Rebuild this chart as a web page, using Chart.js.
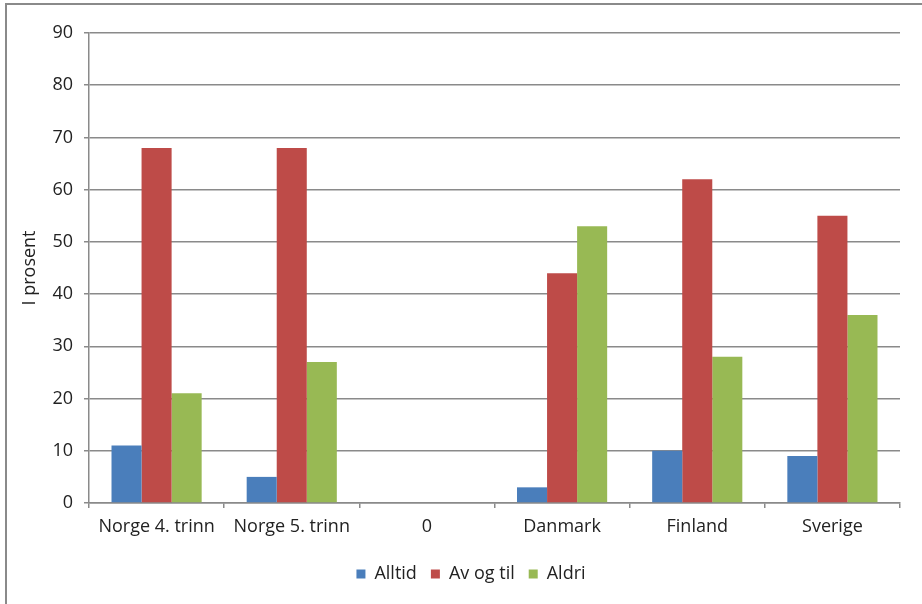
<!DOCTYPE html>
<html>
<head>
<meta charset="utf-8">
<script src="https://cdn.jsdelivr.net/npm/chart.js@4/dist/chart.umd.min.js"></script>
<style>
html,body{margin:0;padding:0;background:#fff;}
#wrap{position:relative;width:922px;height:604px;overflow:hidden;}
#frame{position:absolute;left:5px;top:3px;width:1000px;height:1000px;border-left:2px solid #8a8a8a;border-top:2px solid #8a8a8a;}
canvas{position:absolute;left:0;top:0;}
</style>
</head>
<body>
<div id="wrap">
<div id="frame"></div>
<canvas id="c" width="922" height="604"></canvas>
</div>
<script>
const categories = ["Norge 4. trinn", "Norge 5. trinn", "0", "Danmark", "Finland", "Sverige"];
const alltid = [11, 5, 0, 3, 10, 9];
const avOgTil = [68, 68, 0, 44, 62, 55];
const aldri = [21, 27, 0, 53, 28, 36];
const seriesNames = ["Alltid", "Av og til", "Aldri"];
const yTicks = [0, 10, 20, 30, 40, 50, 60, 70, 80, 90];

const gridColor = '#8a8a8a';
const font = {family: "'Open Sans', 'Noto Sans', sans-serif", size: 18};

new Chart(document.getElementById('c'), {
  type: 'bar',
  data: {
    labels: categories,
    datasets: [
      {label: seriesNames[0], data: alltid, backgroundColor: '#4A7EBB', borderWidth: 0},
      {label: seriesNames[1], data: avOgTil, backgroundColor: '#BE4B48', borderWidth: 0},
      {label: seriesNames[2], data: aldri, backgroundColor: '#98B954', borderWidth: 0}
    ]
  },
  options: {
    responsive: false,
    animation: false,
    devicePixelRatio: 1,
    layout: {padding: {top: 33, right: 22, bottom: 11, left: 42}},
    datasets: {bar: {categoryPercentage: 0.667, barPercentage: 1.0}},
    plugins: {
      legend: {
        position: 'bottom',
        labels: {color: '#222', font: font, boxWidth: 9, boxHeight: 9, padding: 14}
      },
      tooltip: {enabled: false}
    },
    scales: {
      x: {
        offset: true,
        grid: {offset: true, drawOnChartArea: false, drawTicks: true, tickLength: 5, color: gridColor, lineWidth: 1.5},
        border: {display: true, color: gridColor, width: 1.5},
        ticks: {color: '#222', font: font, padding: 8, maxRotation: 0, autoSkip: false},
        afterFit: s => { s.height = 48; }
      },
      y: {
        min: 0, max: 90,
        afterBuildTicks: s => { s.ticks = yTicks.map(v => ({value: v})); },
        grid: {color: gridColor, lineWidth: 1.5, tickLength: 5, drawTicks: true},
        border: {display: true, color: gridColor, width: 1.5},
        ticks: {color: '#222', font: font, padding: 11},
        title: {display: true, text: 'I prosent', color: '#222', font: font, padding: {top: -23, bottom: 0}},
        afterFit: s => { s.width = 47; }
      }
    }
  }
});
</script>
</body>
</html>
